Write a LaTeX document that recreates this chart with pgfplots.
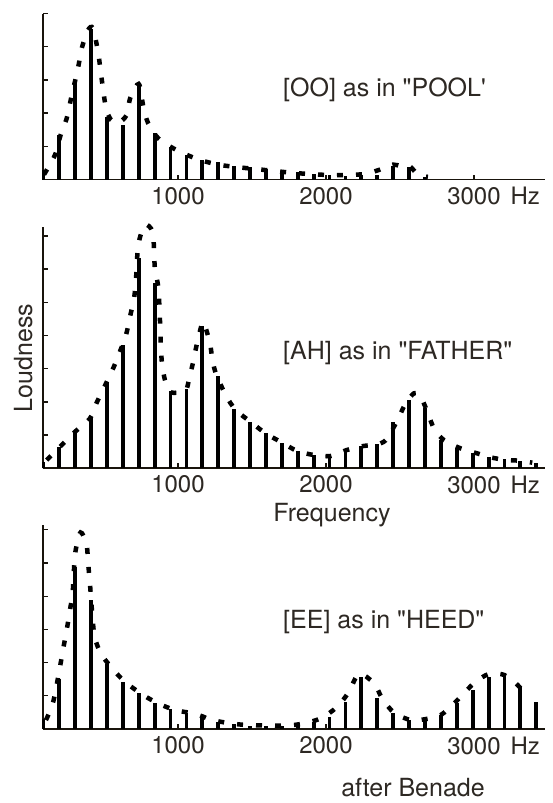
\documentclass[border=0pt]{standalone}
\usepackage{fontspec}
\setmainfont{TeX Gyre Heros}
\usepackage{pgfplots}
\pgfplotsset{compat=1.18}
\definecolor{ink}{RGB}{25,20,12}
\definecolor{txt}{RGB}{45,40,35}
\pgfplotsset{
  vowel/.style={
    scale only axis, width=501.7pt, xmin=90, xmax=3480, ymin=0,
    axis x line=bottom, axis y line=left,
    axis line style={-, line width=1.8pt, color=ink},
    xtick={1000,2000,3000},
    xticklabels={1000,2000,{3000\rlap{\hspace{10pt}Hz}}},
    yticklabels={}, tick align=inside, major tick length=5pt,
    tick style={line width=1.3pt, color=ink},
    ticklabel style={font=\fontsize{24}{28}\selectfont, text=txt},
    /pgf/number format/assume math mode=true,
    xticklabel style={yshift=-4pt},
    clip=false, anchor=south west,
  },
  bars/.style={ycomb, line width=3.8pt, color=black, mark=none},
  env/.style={smooth, line width=4.5pt, color=black, dash pattern=on 6pt off 13pt, mark=none},
}
\begin{document}
\begin{tikzpicture}
\path[use as bounding box] (0,0) rectangle (552pt,-803pt);
% ---------------- [OO]
\begin{axis}[vowel, at={(43.3pt,-179.5pt)}, height=166pt, ymax=5, ytick={1,2,3,4,5}]
\addplot[bars] coordinates {
(91,0.30) (198,1.33) (305,2.99) (413,4.54) (520,1.89) (628,1.64) (735,2.84) (843,1.39)
(950,0.98) (1057,0.74) (1165,0.59) (1272,0.52) (1380,0.42) (1487,0.37) (1595,0.32)
(1702,0.27) (1809,0.22) (1917,0.17) (2024,0.14) (2132,0.12) (2239,0.15) (2347,0.15)
(2454,0.42) (2561,0.39) (2669,0.09)};
\addplot[env] coordinates {
(95,0.15) (169,0.74) (207,1.34) (248,1.84) (275,2.39) (326,3.39) (349,3.94) (392,4.5)
(426,4.55) (461,3.81) (478,3.24) (495,2.69) (514,2.14) (547,1.8) (595,1.7) (653,1.94)
(676,2.44) (723,2.85) (743,2.8) (766,2.19) (799,1.69) (867,1.24) (968,0.94) (1093,0.68)
(1194,0.53) (1297,0.43) (1405,0.37) (1514,0.32) (1622,0.27) (1730,0.22) (1838,0.18)
(1946,0.15) (2054,0.13) (2162,0.14) (2270,0.17) (2365,0.3) (2453,0.45) (2507,0.4)
(2561,0.42) (2622,0.15) (2689,0.08)};
\end{axis}
% ---------------- [AH]
\begin{axis}[vowel, at={(43.3pt,-468.3pt)}, height=241pt, ymax=7.26, ytick={1,...,7}]
\addplot[bars] coordinates {
(91,0.20) (198,0.65) (305,1.05) (413,1.55) (520,2.58) (628,3.71) (735,6.33) (843,5.57)
(950,2.34) (1057,2.38) (1165,4.29) (1272,2.78) (1380,1.78) (1487,1.38) (1595,1.05)
(1702,0.77) (1809,0.52) (1917,0.40) (2024,0.40) (2132,0.55) (2239,0.67) (2347,0.73)
(2454,1.40) (2561,2.06) (2669,1.81) (2776,0.85) (2884,0.60) (2991,0.45) (3099,0.35)
(3206,0.27) (3313,0.23) (3421,0.17)};
\addplot[env] coordinates {
(113,0.25) (203,0.65) (304,1.1) (405,1.5) (451,1.98) (552,2.91) (603,3.46) (649,4.02)
(676,4.57) (703,5.12) (716,5.67) (732,6.73) (777,7.33) (829,7.13) (838,6.53) (845,5.97)
(867,5.47) (875,4.82) (880,4.27) (884,3.71) (892,3.16) (912,2.66) (946,2.31) (1000,2.28)
(1054,2.35) (1076,2.71) (1103,3.21) (1126,3.71) (1160,4.32) (1176,4.37) (1216,3.77)
(1233,3.26) (1257,2.85) (1322,2.21) (1390,1.76) (1502,1.36) (1593,1.05) (1705,0.77)
(1806,0.52) (1919,0.40) (2032,0.37) (2140,0.55) (2250,0.67) (2358,0.73) (2414,0.9)
(2478,1.41) (2539,1.96) (2595,2.26) (2635,2.2) (2680,1.76) (2730,1.2) (2797,0.85)
(2910,0.6) (3022,0.45) (3113,0.33) (3214,0.25) (3304,0.23) (3394,0.17)};
\end{axis}
% ---------------- [EE]
\begin{axis}[vowel, at={(43.3pt,-729pt)}, height=204.2pt, ymax=6.15, ytick={1,...,6}]
\addplot[bars] coordinates {
(91,0.30) (198,1.50) (305,4.89) (413,3.89) (520,1.96) (628,1.43) (735,1.07) (843,0.79)
(950,0.59) (1057,0.47) (1165,0.37) (1272,0.22) (1380,0.15) (1487,0.10) (1595,0.10)
(1702,0.10) (1809,0.12) (1917,0.20) (2024,0.37) (2132,0.82) (2239,1.58) (2347,0.92)
(2454,0.47) (2561,0.27) (2669,0.29) (2776,0.42) (2884,0.77) (2991,1.17) (3099,1.58)
(3206,1.63) (3313,1.28) (3421,0.82)};
\addplot[env] coordinates {
(108,0.27) (157,0.82) (203,1.88) (225,2.43) (248,2.98) (270,3.58) (289,4.14) (304,5.24)
(333,5.84) (351,5.9) (383,5.54) (394,4.94) (405,4.39) (424,3.28) (439,2.73) (485,2.23)
(574,1.73) (653,1.38) (766,1.02) (867,0.77) (980,0.57) (1103,0.47) (1171,0.37)
(1228,0.27) (1356,0.17) (1468,0.12) (1694,0.10) (1829,0.15) (1964,0.32) (2076,0.67)
(2155,1.12) (2223,1.66) (2324,1.38) (2380,0.92) (2460,0.49) (2572,0.27) (2662,0.29)
(2775,0.42) (2865,0.77) (2921,1.02) (3000,1.38) (3101,1.66) (3203,1.63) (3282,1.38)
(3326,1.17)};
\end{axis}
% ---------------- texts
\begin{scope}[every node/.style={text=txt, font=\fontsize{25}{30}\selectfont, inner sep=0pt}]
\node[anchor=base west] at (283pt,-96pt) {[OO] as in \textquotedbl POOL\textquotesingle};
\node[anchor=base west] at (283pt,-359pt) {[AH] as in \textquotedbl FATHER\textquotedbl};
\node[anchor=base west] at (283pt,-628pt) {[EE] as in \textquotedbl HEED\textquotedbl};
\node[anchor=base] at (332pt,-521pt) {Frequency};
\node[anchor=base, rotate=90] at (32pt,-358pt) {Loudness};
\node[anchor=base] at (413pt,-796pt) {after Benade};
\end{scope}
\end{tikzpicture}
\end{document}
